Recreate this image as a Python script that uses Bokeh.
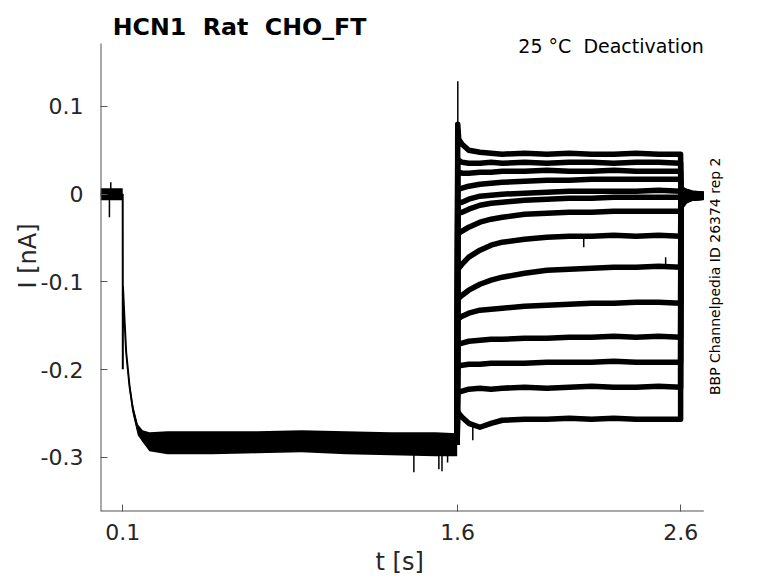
import math
from bokeh.plotting import figure
from bokeh.models import Range1d, FixedTicker, Label, Title
from bokeh.embed import file_html
from bokeh.resources import INLINE

# ---------------- data (t in s, I in nA) ----------------
# common part of all sweeps (holding + activation step), centre line
t_pre = [0.000, 0.020, 0.038, 0.070, 0.0995, 0.1000, 0.1005, 0.1075, 0.115, 0.130,
         0.145, 0.167, 0.189, 0.219, 0.40, 0.80, 1.20, 1.40, 1.598]
i_pre = [-0.0002, -0.0002, -0.0002, -0.0002, -0.0002, -0.1997, -0.1051, -0.1427, -0.1803, -0.2190,
         -0.2452, -0.2681, -0.2760, -0.2829, -0.2840, -0.2829, -0.2840, -0.2840, -0.2851]

# noise envelope of the overlapping sweeps in the common part
t_env = [0.000, 0.030, 0.060, 0.0995, 0.1005, 0.1075, 0.115, 0.130, 0.145, 0.167,
         0.189, 0.219, 0.30, 0.50, 0.70, 0.90, 1.10, 1.30, 1.50, 1.598]
i_env_hi = [0.0066, 0.0066, 0.0066, 0.0066, -0.0994, -0.1370, -0.1757, -0.2133, -0.2396, -0.2624,
            -0.2692, -0.2715, -0.2704, -0.2704, -0.2704, -0.2692, -0.2704, -0.2715, -0.2715, -0.2726]
i_env_lo = [-0.0071, -0.0071, -0.0071, -0.0071, -0.1108, -0.1495, -0.1860, -0.2247, -0.2510, -0.2749,
            -0.2829, -0.2932, -0.2966, -0.2966, -0.2955, -0.2943, -0.2966, -0.2978, -0.2989, -0.2989]

# brief spikes (time, level of trace, tip)
spike_t = [0.040, 0.046, 1.404, 1.516, 1.530, 1.555, 1.6008, 1.607, 1.668, 2.165, 2.532]
spike_base = [-0.0002, -0.0002, -0.2840, -0.2840, -0.2840, -0.2840, 0.0795, -0.2500, -0.2630, -0.0481, -0.0834]
spike_tip = [-0.0264, 0.0134, -0.3170, -0.3136, -0.3159, -0.3060, 0.1285, -0.2770, -0.2805, -0.0606, -0.0720]

# deactivation test steps (one list per sweep)
t_step = [1.6005, 1.605, 1.62, 1.65, 1.70, 1.75, 1.80, 1.90, 2.00, 2.10, 2.20, 2.30, 2.40, 2.50, 2.599]
i_step = [
    [0.0795, 0.0624, 0.0568, 0.0499, 0.0476, 0.0465, 0.0454, 0.0465, 0.0454, 0.0465, 0.0454, 0.0454, 0.0465, 0.0454, 0.0454],
    [0.0397, 0.0385, 0.0362, 0.0351, 0.0351, 0.0362, 0.0351, 0.0362, 0.0351, 0.0362, 0.0362, 0.0351, 0.0362, 0.0362, 0.0351],
    [0.0260, 0.0248, 0.0237, 0.0237, 0.0248, 0.0248, 0.0260, 0.0260, 0.0271, 0.0260, 0.0260, 0.0271, 0.0260, 0.0260, 0.0260],
    [0.0055, 0.0055, 0.0066, 0.0089, 0.0112, 0.0123, 0.0134, 0.0146, 0.0157, 0.0157, 0.0169, 0.0169, 0.0169, 0.0169, 0.0169],
    [-0.0116, -0.0105, -0.0093, -0.0059, -0.0025, -0.0014, -0.0002, 0.0009, 0.0021, 0.0032, 0.0032, 0.0032, 0.0032, 0.0043, 0.0032],
    [-0.0230, -0.0219, -0.0207, -0.0173, -0.0128, -0.0105, -0.0093, -0.0071, -0.0059, -0.0048, -0.0048, -0.0036, -0.0036, -0.0036, -0.0036],
    [-0.0458, -0.0447, -0.0424, -0.0378, -0.0321, -0.0287, -0.0264, -0.0230, -0.0219, -0.0207, -0.0207, -0.0196, -0.0196, -0.0196, -0.0196],
    [-0.0857, -0.0845, -0.0800, -0.0720, -0.0640, -0.0583, -0.0549, -0.0515, -0.0492, -0.0481, -0.0481, -0.0470, -0.0481, -0.0470, -0.0481],
    [-0.1199, -0.1188, -0.1153, -0.1096, -0.1028, -0.0982, -0.0948, -0.0903, -0.0868, -0.0857, -0.0846, -0.0834, -0.0834, -0.0823, -0.0834],
    [-0.1427, -0.1416, -0.1393, -0.1358, -0.1324, -0.1313, -0.1301, -0.1279, -0.1267, -0.1256, -0.1244, -0.1244, -0.1233, -0.1233, -0.1244],
    [-0.1712, -0.1712, -0.1700, -0.1678, -0.1667, -0.1655, -0.1655, -0.1644, -0.1644, -0.1632, -0.1632, -0.1621, -0.1632, -0.1621, -0.1632],
    [-0.1962, -0.1962, -0.1951, -0.1940, -0.1940, -0.1928, -0.1928, -0.1928, -0.1917, -0.1917, -0.1917, -0.1906, -0.1917, -0.1917, -0.1917],
    [-0.2259, -0.2259, -0.2247, -0.2224, -0.2213, -0.2224, -0.2213, -0.2202, -0.2213, -0.2202, -0.2190, -0.2202, -0.2202, -0.2190, -0.2202],
    [-0.2476, -0.2500, -0.2544, -0.2613, -0.2658, -0.2613, -0.2578, -0.2567, -0.2567, -0.2556, -0.2567, -0.2556, -0.2567, -0.2567, -0.2567],
]

# return to holding potential (one list per sweep)
t_tail = [2.6005, 2.62, 2.65, 2.703]
i_tail = [
    [0.0066, 0.0032, 0.0009, -0.0002],
    [0.0055, 0.0032, 0.0009, -0.0002],
    [0.0043, 0.0021, -0.0002, -0.0002],
    [0.0032, 0.0009, -0.0002, -0.0014],
    [0.0021, 0.0009, -0.0002, -0.0014],
    [0.0009, -0.0002, -0.0014, -0.0014],
    [-0.0014, -0.0014, -0.0014, -0.0014],
    [-0.0036, -0.0025, -0.0025, -0.0025],
    [-0.0059, -0.0036, -0.0025, -0.0025],
    [-0.0082, -0.0048, -0.0036, -0.0025],
    [-0.0105, -0.0059, -0.0036, -0.0025],
    [-0.0116, -0.0071, -0.0048, -0.0036],
    [-0.0128, -0.0071, -0.0048, -0.0036],
    [-0.0150, -0.0082, -0.0048, -0.0036],
]

# axes extents (data units) and ticks
x_axis_start, x_axis_end = 0.0, 2.703
y_axis_start, y_axis_end = -0.3618, 0.1714
x_ticks = [0.1, 1.6, 2.6]
y_ticks = [-0.3, -0.2, -0.1, 0, 0.1]
y_tick_labels = ["-0.3", "-0.2", "-0.1", "0", "0.1"]

NB = "\u00a0"
title_text = "HCN1" + NB + " Rat" + NB + " CHO_FT"
subtitle_text = "25 \u00b0C" + NB + " Deactivation"
side_text = "BBP Channelpedia ID 26374 rep 2"
x_label = "t [s]"
y_label = "I [nA]"

# ---------------- figure ----------------
FONT = "DejaVu Sans"
W, H = 770, 583
BL, BB = 100, 72
PX_PER_S = 223.2
PX_PER_NA = 877.5
x_end_view = (W - BL) / PX_PER_S
y_end_view = y_axis_start + (H - BB) / PX_PER_NA

p = figure(width=W, height=H, output_backend="svg", toolbar_location=None,
           x_range=Range1d(x_axis_start, x_end_view), y_range=Range1d(y_axis_start, y_end_view),
           min_border_left=BL, min_border_right=0, min_border_top=0, min_border_bottom=BB)
p.outline_line_color = None
p.xgrid.visible = False
p.ygrid.visible = False
p.background_fill_color = "white"
p.border_fill_color = "white"

# common part
p.varea(x=t_env, y1=i_env_lo, y2=i_env_hi, fill_color="black")
p.line(t_pre, i_pre, line_color="black", line_width=2)

# sweeps
xs, ys = [], []
for k in range(len(i_step)):
    xs.append([t_pre[-1]] + t_step + t_tail)
    ys.append([i_pre[-1]] + i_step[k] + i_tail[k])
p.multi_line(xs, ys, line_color="black", line_width=5.5, line_join="round")

p.segment(x0=spike_t, y0=spike_base, x1=spike_t, y1=spike_tip, line_color="black", line_width=1.5)

# axis lines (only the left and bottom spines, limited to the axes box)
axc = "#555555"
p.segment(x0=[x_axis_start, x_axis_start], y0=[y_axis_start, y_axis_start],
          x1=[x_axis_start, x_axis_end], y1=[y_axis_end, y_axis_start],
          line_color=axc, line_width=2)

for ax in (p.xaxis[0], p.yaxis[0]):
    ax.axis_line_color = None
    ax.major_tick_line_color = axc
    ax.major_tick_in = 7
    ax.major_tick_out = 0
    ax.minor_tick_line_color = None
    ax.major_label_text_font = FONT
    ax.major_label_text_font_size = "22px"
    ax.major_label_text_color = "#262626"
    ax.axis_label_text_font = FONT
    ax.axis_label_text_font_size = "24px"
    ax.axis_label_text_font_style = "normal"
    ax.axis_label_text_color = "#262626"

p.xaxis.ticker = FixedTicker(ticks=x_ticks)
p.xaxis.major_label_standoff = 12

p.yaxis.ticker = FixedTicker(ticks=y_ticks)
p.yaxis.major_label_overrides = {v: s for v, s in zip(y_ticks, y_tick_labels)}
p.yaxis.axis_label = y_label
p.yaxis.major_label_standoff = 17
p.yaxis.axis_label_standoff = -4

# x-axis label, centred under the drawn axis (not under the whole frame)
p.add_layout(Title(text=x_label, align="left", offset=275, vertical_align="bottom", standoff=6,
                   text_font=FONT, text_font_size="24px", text_font_style="normal",
                   text_color="#262626"), "below")

p.add_layout(Label(x=0.055, y=0.1907, text=title_text, text_font=FONT, text_font_size="23.7px",
                   text_font_style="bold", text_color="black", text_baseline="alphabetic",
                   text_align="left"))
p.add_layout(Label(x=2.703, y=0.1684, text=subtitle_text, text_font=FONT, text_font_size="19px",
                   text_color="black", text_baseline="alphabetic", text_align="right"))
p.add_layout(Label(x=2.752, y=-0.0937, text=side_text, text_font=FONT, text_font_size="14px",
                   text_color="black", text_baseline="middle", text_align="center",
                   angle=math.pi / 2))

open("out.html", "w").write(file_html(p, INLINE))
